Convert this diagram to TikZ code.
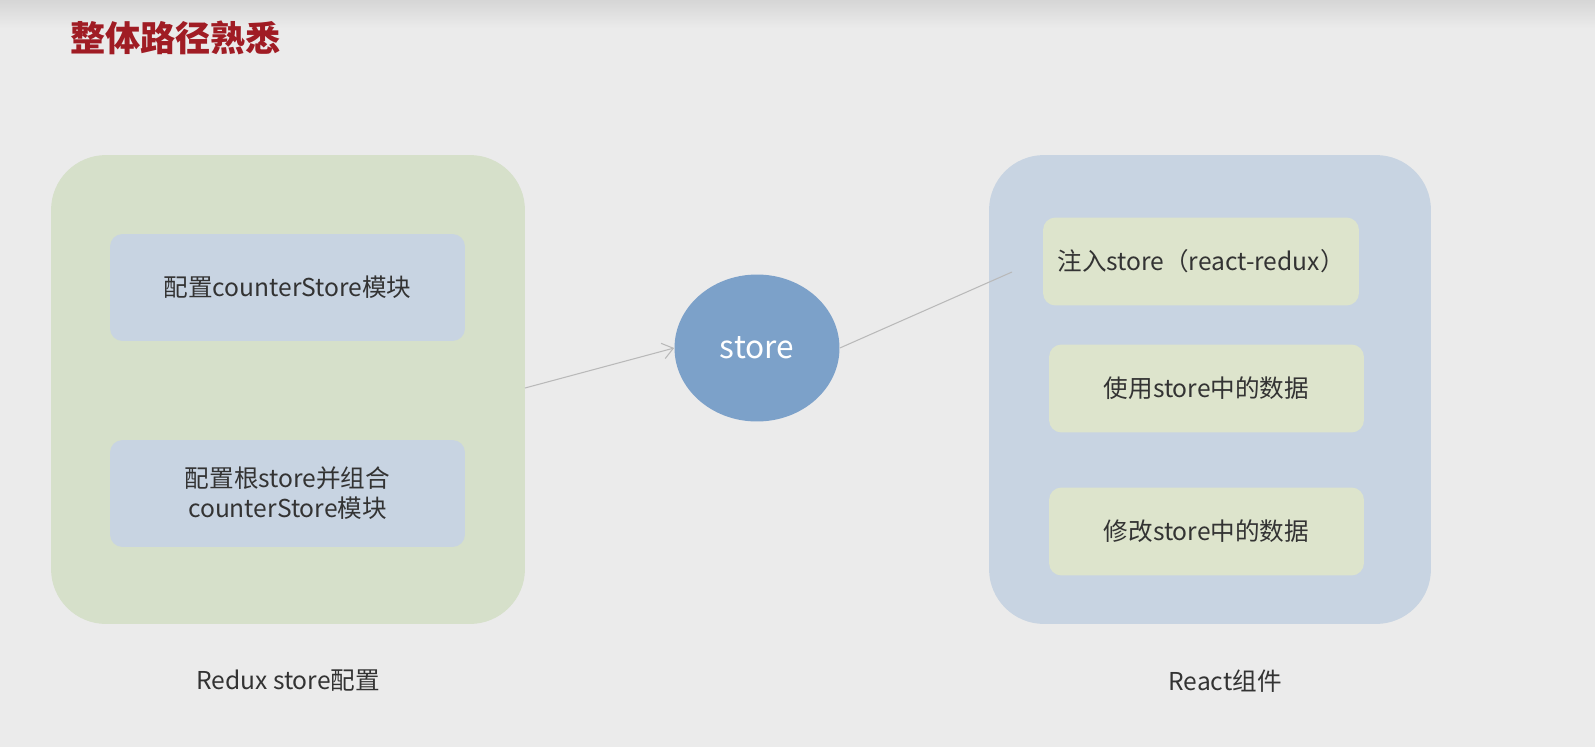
\documentclass[tikz,border=0pt]{standalone}
\usepackage{fontspec}
\setmainfont{Noto Sans CJK SC}
\usetikzlibrary{shapes.geometric,arrows.meta}

\definecolor{bggray}{RGB}{235,235,235}
\definecolor{topgray}{RGB}{214,214,214}
\definecolor{titlered}{RGB}{160,28,36}
\definecolor{boxgreen}{RGB}{214,224,202}
\definecolor{boxblue}{RGB}{200,212,226}
\definecolor{innergreen}{RGB}{221,228,204}
\definecolor{storeblue}{RGB}{124,161,201}
\definecolor{txtgray}{RGB}{51,51,51}

\begin{document}
\begin{tikzpicture}[x=0.02cm, y=-0.02cm,
    every node/.style={font=\fontsize{14}{17}\selectfont, text=txtgray, align=center},
    bigbox/.style={rounded corners=1.1cm, minimum width=#1, minimum height=9.38cm},
    innerbox/.style={rounded corners=0.25cm, minimum width=7.1cm, minimum height=2.14cm, fill=boxblue},
    taskbox/.style={rounded corners=0.25cm, minimum width=6.3cm, minimum height=1.76cm, fill=innergreen},
    link/.style={draw=gray!55, line width=0.6pt}]

    % Background and page size
    \fill[bggray] (0,0) rectangle (1595,747);
    \shade[top color=topgray, bottom color=bggray] (0,0) rectangle (1595,28);
    \useasboundingbox (0,0) rectangle (1595,747);

    % Title
    \node[font=\fontsize{20}{24}\selectfont\bfseries, text=titlered, anchor=west] (title) at (64,38) {整体路径熟悉};

    % Left group: Redux store setup
    \node[bigbox=9.48cm, fill=boxgreen] (redux) at (288,389.5) {};
    \node[innerbox] (counter) at (287.5,287.5) {配置counterStore模块};
    \node[innerbox] (root) at (287.5,493.5) {配置根store并组合\\counterStore模块};
    \node (reduxlabel) at (288,681) {Redux store配置};

    % The store in the middle
    \node[ellipse, fill=storeblue, minimum width=3.3cm, minimum height=2.94cm,
          text=white, font=\fontsize{18}{22}\selectfont] (store) at (757,348) {store};

    % Right group: React components
    \node[bigbox=8.84cm, fill=boxblue] (react) at (1210,389.5) {};
    \node[taskbox, minimum width=6.32cm] (inject) at (1201,261.5) {注入store（react-redux）};
    \node[taskbox] (use) at (1206.5,388.5) {使用store中的数据};
    \node[taskbox] (change) at (1206.5,531.5) {修改store中的数据};
    \node (reactlabel) at (1225,681) {React组件};

    % Connectors
    \coordinate (reduxout) at (525,388);
    \coordinate (injectin) at (1012,272);
    \draw[link, -{Straight Barb[length=6pt, width=9pt]}] (reduxout) -- (store.west);
    \draw[link] (store.east) -- (injectin);

\end{tikzpicture}
\end{document}
